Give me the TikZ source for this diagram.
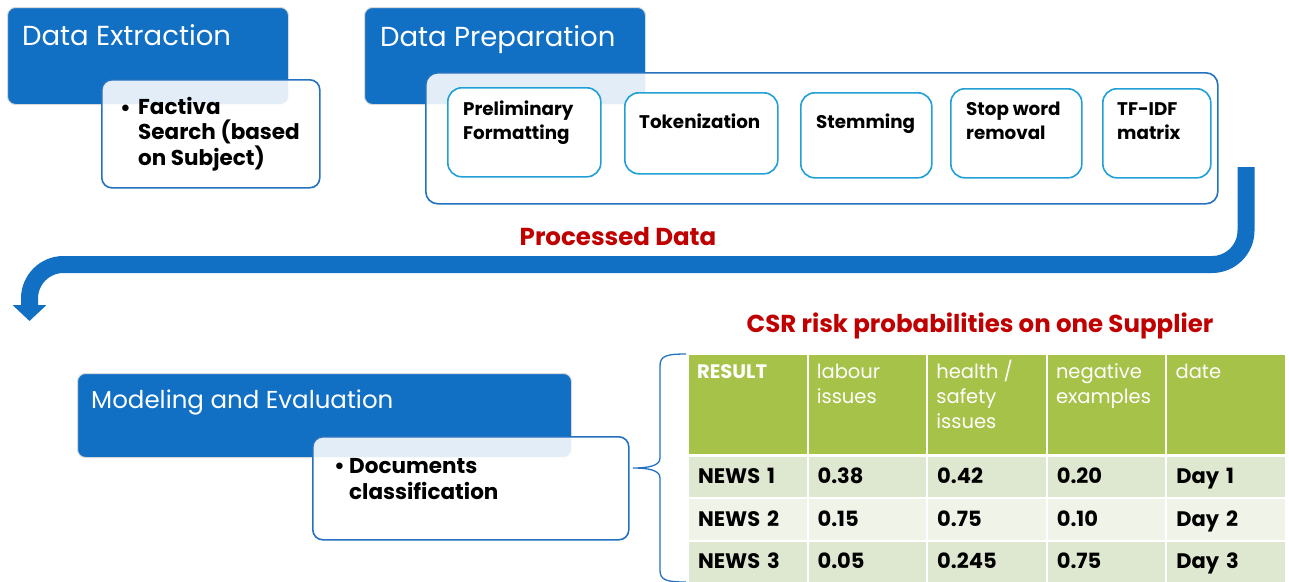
\documentclass[tikz,border=0pt]{standalone}
\usepackage{fontspec}
\setmainfont{Poppins}
\usetikzlibrary{arrows.meta,positioning,calc}
\definecolor{stepblue}{RGB}{17,112,196}
\definecolor{edgeblue}{RGB}{36,113,192}
\definecolor{stepcyan}{RGB}{32,160,214}
\definecolor{darkred}{RGB}{192,0,0}
\definecolor{headgreen}{RGB}{166,194,72}
\definecolor{rowdark}{RGB}{222,231,207}
\definecolor{rowlight}{RGB}{239,243,232}

\begin{document}
\begin{tikzpicture}[x=1pt, y=-1pt,
    phasebox/.style={rectangle, draw=black!15, line width=1pt, fill=stepblue, rounded corners=8pt, anchor=north west, inner sep=0pt},
    phasetitle/.style={anchor=base west, inner sep=0pt, text=white, font=\fontsize{27.5}{31}\selectfont},
    detailbox/.style={rectangle, draw=edgeblue, line width=1.6pt, fill=white, fill opacity=0.88, rounded corners=10pt, anchor=north west, inner sep=0pt},
    detailtext/.style={anchor=base west, inner sep=0pt, align=left, font=\fontsize{21.5}{25.5}\selectfont\bfseries},
    taskbox/.style={rectangle, draw=stepcyan, line width=1.6pt, fill=white, rounded corners=14pt, anchor=north west, inner sep=0pt},
    tasktext/.style={anchor=base west, inner sep=0pt, align=left, font=\fontsize{18.3}{24}\selectfont\bfseries},
    redtitle/.style={anchor=base, inner sep=0pt, text=darkred, font=\fontsize{24.5}{28}\selectfont\bfseries},
    headcell/.style={rectangle, draw=white, line width=2pt, fill=headgreen, anchor=north west, minimum width=119.6pt, minimum height=101pt, inner sep=0pt},
    headtext/.style={anchor=base west, inner sep=0pt, align=left, text=white, font=\fontsize{19.5}{24.8}\selectfont},
    bodycell/.style={rectangle, draw=white, line width=2pt, anchor=north west, minimum width=119.6pt, minimum height=42.5pt, inner sep=0pt, text width=99.6pt, align=left, text height=14pt, text depth=0pt, font=\fontsize{21}{24}\selectfont\bfseries},
    bigarrow/.style={-{Triangle[width=33pt,length=16pt]}, line width=17pt, stepblue, rounded corners=34pt},
    bracket/.style={edgeblue, line width=1.3pt}
]
    \useasboundingbox (0,0) rectangle (1289,581);

    % Data extraction
    \node[phasebox, minimum width=281pt, minimum height=97pt] (extr) at (7,7) {};
    \node[detailbox, minimum width=218pt, minimum height=108pt] (extrsub) at (101,79) {};
    \node[phasetitle] (extrtitle) at (22,45) {Data Extraction};
    \node[detailtext] (extrdot) at (120,115) {\textbullet};
    \node[detailtext] (extrtext) at (138,165) {Factiva\\Search (based\\on Subject)};

    % Data preparation
    \node[phasebox, minimum width=281pt, minimum height=97pt] (prep) at (364,7) {};
    \node[detailbox, rounded corners=12pt, minimum width=792pt, minimum height=131pt] (prepsub) at (425,72) {};
    \node[phasetitle] (preptitle) at (380,46) {Data Preparation};

    \node[taskbox, minimum width=153pt, minimum height=89pt] (t1) at (447,87) {};
    \node[taskbox, minimum width=153pt, minimum height=81pt] (t2) at (624,92) {};
    \node[taskbox, minimum width=131pt, minimum height=85pt] (t3) at (800,92) {};
    \node[taskbox, minimum width=131pt, minimum height=89pt] (t4) at (950,88) {};
    \node[taskbox, minimum width=108pt, minimum height=89pt] (t5) at (1102,88) {};
    \node[tasktext] at (463,139) {Preliminary\\Formatting};
    \node[tasktext] at (639,128) {Tokenization};
    \node[tasktext] at (816,128) {Stemming};
    \node[tasktext] at (966,139) {Stop word\\removal};
    \node[tasktext] at (1117,139) {TF-IDF\\matrix};

    % Flow back to modeling
    \coordinate (arrstart) at (1246,167);
    \coordinate (turn) at (29.5,264.5);
    \coordinate (arrend) at (29.5,321);
    \draw[bigarrow] (arrstart) |- (turn) -- (arrend);
    \node[redtitle] (processed) at (618,245) {Processed Data};

    % Modeling and evaluation
    \node[phasebox, minimum width=494pt, minimum height=84pt] (model) at (77,373) {};
    \node[detailbox, minimum width=316pt, minimum height=103pt] (modelsub) at (312,436) {};
    \node[phasetitle, font=\fontsize{24.5}{28}\selectfont] (modeltitle) at (91,408) {Modeling and Evaluation};
    \node[detailtext] (modeldot) at (334,473) {\textbullet};
    \node[detailtext] (modeltext) at (349,499) {Documents\\classification};

    % Result table
    \node[redtitle] (csr) at (980,332) {CSR risk probabilities on one Supplier};
    \foreach \h/\dy [count=\c] in {{\bfseries RESULT}/25, labour\\issues/50, {health /\\safety\\issues}/75, negative\\examples/50, date/25} {
        \node[headcell] (h\c) at ({687+(\c-1)*119.6},353) {};
        \node[headtext] at ($(h\c.north west)+(10,\dy)$) {\h};
    }
    \foreach \v [count=\c] in {NEWS 1, 0.38, 0.42, 0.20, Day 1}
        \node[bodycell, fill=rowdark] (a\c) at ({687+(\c-1)*119.6},454.5) {\v};
    \foreach \v [count=\c] in {NEWS 2, 0.15, 0.75, 0.10, Day 2}
        \node[bodycell, fill=rowlight] (b\c) at ({687+(\c-1)*119.6},497) {\v};
    \foreach \v [count=\c] in {NEWS 3, 0.05, 0.245, 0.75, Day 3}
        \node[bodycell, fill=rowdark] (d\c) at ({687+(\c-1)*119.6},539.5) {\v};

    % Brace from classification to table
    \coordinate (bracetop) at (686,354);
    \coordinate (bracetip) at (633,468);
    \coordinate (bracebot) at (686,582);
    \draw[bracket] (bracetop) .. controls (666,354) and (660,356) .. (660,366) -- (660,458)
        .. controls (660,466) and (648,468) .. (bracetip)
        .. controls (648,468) and (660,470) .. (660,478) -- (660,570)
        .. controls (660,580) and (666,582) .. (bracebot);
\end{tikzpicture}
\end{document}
